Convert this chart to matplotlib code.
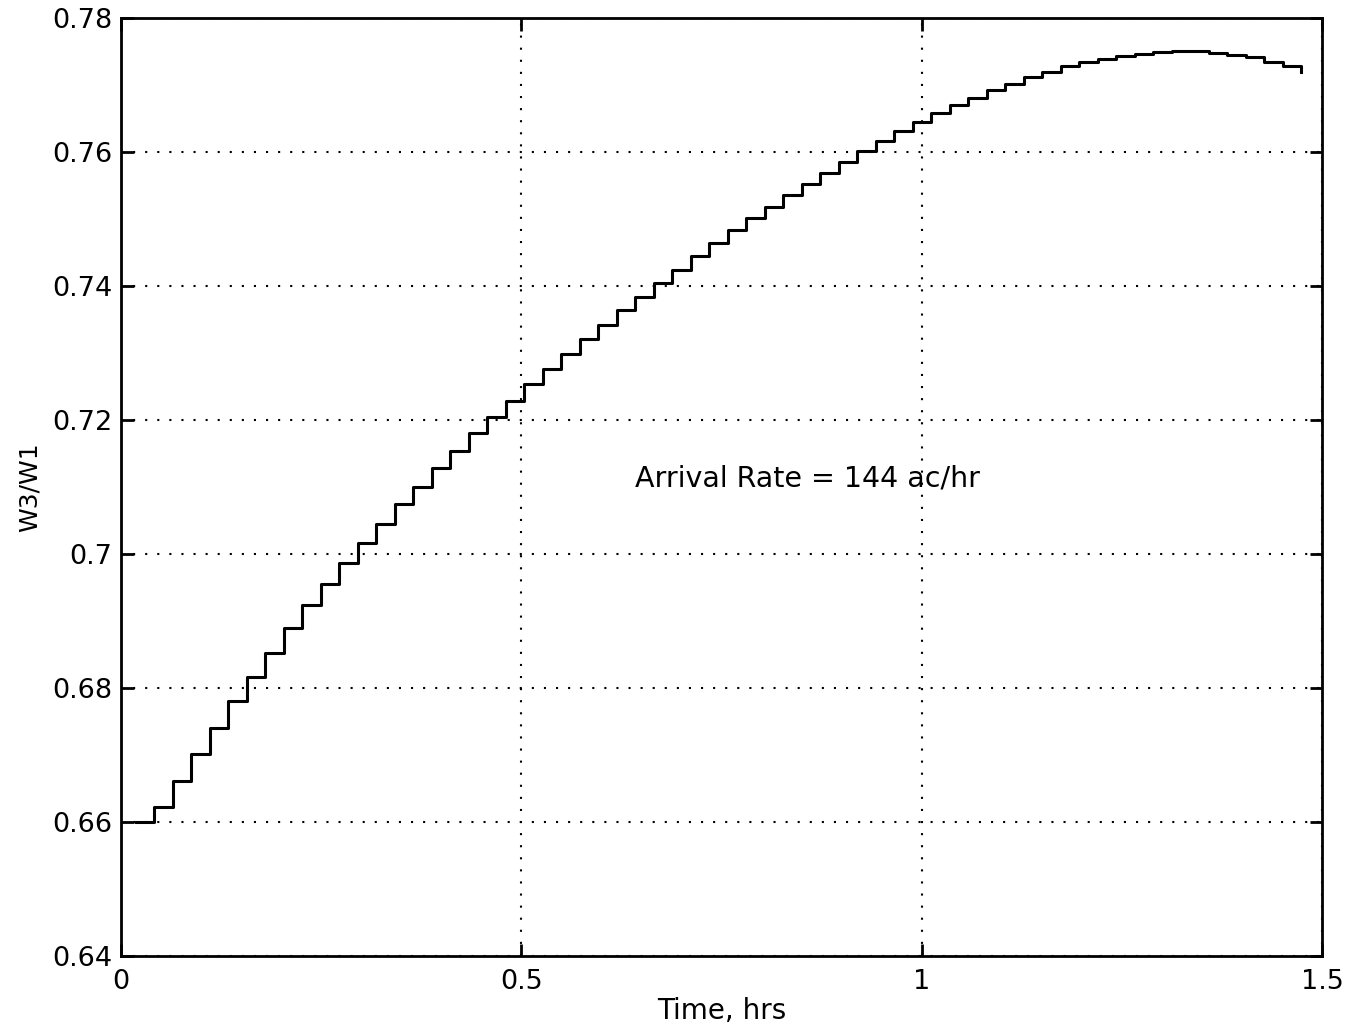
import matplotlib
matplotlib.use("Agg")
import matplotlib.pyplot as plt
import numpy as np

# W3/W1 ratio, one value per update interval (stairs output)
w_ratio = [
    0.6600, 0.6622, 0.6661, 0.6701, 0.6741, 0.6781, 0.6817, 0.6853, 0.6890, 0.6924,
    0.6955, 0.6987, 0.7017, 0.7045, 0.7074, 0.7100, 0.7128, 0.7154, 0.7180, 0.7205,
    0.7228, 0.7253, 0.7276, 0.7298, 0.7321, 0.7342, 0.7364, 0.7383, 0.7404, 0.7424,
    0.7445, 0.7464, 0.7483, 0.7501, 0.7518, 0.7536, 0.7552, 0.7569, 0.7585, 0.7602,
    0.7617, 0.7631, 0.7645, 0.7658, 0.7670, 0.7681, 0.7692, 0.7702, 0.7712, 0.7720,
    0.7728, 0.7734, 0.7739, 0.7744, 0.7746, 0.7749, 0.7750, 0.7750, 0.7748, 0.7745,
    0.7742, 0.7735, 0.7728, 0.7720,
]
t_start = 0.0185   # hrs
t_step = 0.0231    # hrs between updates
time = t_start + t_step * np.arange(len(w_ratio))

xticks = [0, 0.5, 1, 1.5]
yticks = [0.64, 0.66, 0.68, 0.70, 0.72, 0.74, 0.76, 0.78]
ytick_labels = ["0.64", "0.66", "0.68", "0.7", "0.72", "0.74", "0.76", "0.78"]

fig = plt.figure(figsize=(13.65, 10.34), dpi=100)
ax = fig.add_axes([0.0886, 0.0754, 0.9687 - 0.0886, 0.9826 - 0.0754])

ax.plot(time, w_ratio, drawstyle="steps-post", color="black", lw=2.2)

ax.set_xlim(0, 1.5)
ax.set_ylim(0.64, 0.78)
ax.set_xticks(xticks)
ax.set_xticklabels(["0", "0.5", "1", "1.5"])
ax.set_yticks(yticks)
ax.set_yticklabels(ytick_labels)

ax.grid(True, color="black", linestyle=(0, (1, 4.8)), lw=1.5)
ax.tick_params(direction="in", length=9, width=2, top=True, right=True,
               labelsize=19.5, colors="black")
ax.tick_params(axis="x", pad=9)
ax.tick_params(axis="y", pad=6)
for sp in ax.spines.values():
    sp.set_linewidth(2)

ax.set_xlabel("Time, hrs", fontsize=20, labelpad=2)
ax.set_ylabel("W3/W1", fontsize=18, labelpad=8)

ax.text(0.642, 0.7113, "Arrival Rate = 144 ac/hr", fontsize=20.5,
        va="center", ha="left")

fig.savefig("out.png", dpi=100)
